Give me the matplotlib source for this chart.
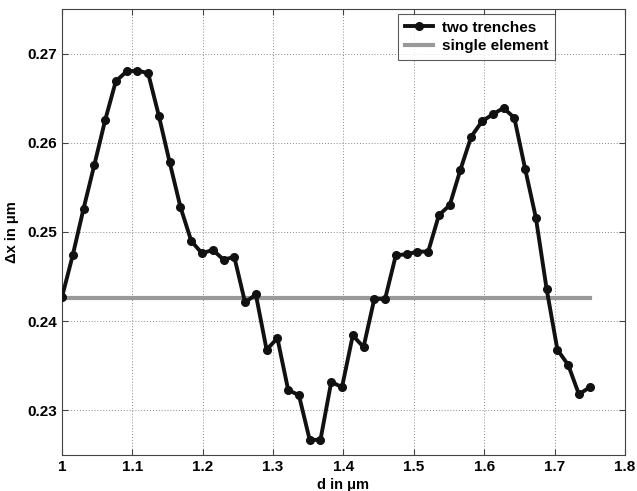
import numpy as np
import matplotlib
matplotlib.use("Agg")
import matplotlib.pyplot as plt

plt.rcParams['font.family'] = ['Liberation Sans', 'DejaVu Sans']

# Gap d (um), 50 evenly spaced samples from 1.0 to 1.75
d_start, d_stop, n_points = 1.0, 1.75, 50
d = np.linspace(d_start, d_stop, n_points)

# Shift for two trenches (um)
two_trenches = [
    0.2427, 0.2474, 0.2526, 0.2575, 0.2625, 0.2669, 0.2680, 0.2681, 0.2678, 0.2630,
    0.2578, 0.2528, 0.2490, 0.2476, 0.2480, 0.2469, 0.2472, 0.2421, 0.2430, 0.2368,
    0.2381, 0.2323, 0.2317, 0.2267, 0.2267, 0.2332, 0.2326, 0.2384, 0.2371, 0.2425,
    0.2425, 0.2474, 0.2475, 0.2478, 0.2478, 0.2519, 0.2530, 0.2570, 0.2607, 0.2624,
    0.2632, 0.2639, 0.2628, 0.2571, 0.2516, 0.2436, 0.2368, 0.2351, 0.2318, 0.2326,
]

# Shift for a single element (um), constant
single_element = 0.2426

x_ticks = [1, 1.1, 1.2, 1.3, 1.4, 1.5, 1.6, 1.7, 1.8]
y_ticks = [0.23, 0.24, 0.25, 0.26, 0.27]

fig = plt.figure(figsize=(6.37, 4.91), dpi=100)
ax = fig.add_axes([0.0973, 0.0733, 0.8837, 0.9084])

ax.plot(d, two_trenches, color='#111111', lw=2.8, marker='o', ms=5.5,
        label='two trenches', zorder=3)
ax.plot([d_start, d_stop], [single_element, single_element], color='#999999',
        lw=3.0, label='single element', zorder=2)

ax.set_xlim(1.0, 1.8)
ax.set_ylim(0.225, 0.275)
ax.set_xticks(x_ticks)
ax.set_xticklabels([f"{t:g}" for t in x_ticks])
ax.set_yticks(y_ticks)
ax.set_yticklabels([f"{t:g}" for t in y_ticks])

ax.grid(True, linestyle=(0, (1, 2)), color='#888888', lw=0.7)
ax.tick_params(direction='in', top=True, right=True, length=4, labelsize=11,
               color='#444444')
for lab in ax.get_xticklabels() + ax.get_yticklabels():
    lab.set_fontweight('bold')
for sp in ax.spines.values():
    sp.set_color('#444444')
    sp.set_linewidth(0.8)

ax.set_xlabel('d in μm', fontsize=10.5, fontweight='bold', labelpad=3)
ax.set_ylabel('Δx in μm', fontsize=10.5, fontweight='bold', labelpad=6)

leg = ax.legend(loc='upper right', bbox_to_anchor=(0.876, 0.989),
                borderaxespad=0, frameon=True, fancybox=False,
                edgecolor='#333333', handlelength=1.8, handletextpad=0.6,
                borderpad=0.45, labelspacing=0.3,
                prop={'size': 11, 'weight': 'bold'})
leg.get_frame().set_linewidth(0.8)

fig.savefig('out.png', dpi=100)
